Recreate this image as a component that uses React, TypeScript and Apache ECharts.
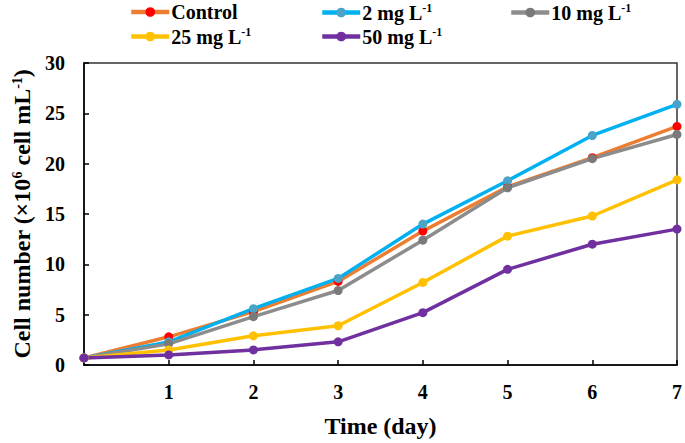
import React, { useEffect, useRef } from "react";
import * as echarts from "echarts";

const days = [0, 1, 2, 3, 4, 5, 6, 7];
const control = [0.7, 2.8, 5.3, 8.3, 13.3, 17.7, 20.6, 23.7];
const mg2 = [0.7, 2.3, 5.6, 8.6, 14.0, 18.3, 22.8, 25.9];
const mg10 = [0.7, 2.1, 4.8, 7.4, 12.4, 17.6, 20.5, 22.9];
const mg25 = [0.7, 1.5, 2.9, 3.9, 8.2, 12.8, 14.8, 18.4];
const mg50 = [0.7, 1.0, 1.5, 2.3, 5.2, 9.5, 12.0, 13.5];
const yTicks = [0, 5, 10, 15, 20, 25, 30];

const seriesDefs = [
  { name: "Control", label: "{a|Control}", data: control, line: "#ED7D31", marker: "#FF0000", left: 129, top: 2 },
  { name: "2 mg L-1", label: "{a|2 mg L}{s|-1}", data: mg2, line: "#00B0F0", marker: "#4BA3C8", left: 320, top: 2 },
  { name: "10 mg L-1", label: "{a|10 mg L}{s|-1}", data: mg10, line: "#8C8C8C", marker: "#7A7A7A", left: 509, top: 2 },
  { name: "25 mg L-1", label: "{a|25 mg L}{s|-1}", data: mg25, line: "#FFC000", marker: "#FFC000", left: 129, top: 26 },
  { name: "50 mg L-1", label: "{a|50 mg L}{s|-1}", data: mg50, line: "#7030A0", marker: "#7030A0", left: 320, top: 26 },
];

const FONT = "Liberation Serif";

export default function App() {
  const ref = useRef<HTMLDivElement>(null);
  useEffect(() => {
    if (!ref.current) return;
    const chart = echarts.init(ref.current, null, { renderer: "svg" });
    const rich = {
      a: { fontFamily: FONT, fontWeight: "bold", fontSize: 20, color: "#000" },
      s: { fontFamily: FONT, fontWeight: "bold", fontSize: 12, color: "#000", verticalAlign: "top", padding: [0, 0, 9, 0] },
    };
    chart.setOption({
      animation: false,
      backgroundColor: "#fff",
      legend: seriesDefs.map((s) => ({
        data: [s.name],
        left: s.left,
        top: s.top,
        padding: 0,
        itemWidth: 38,
        itemHeight: 12,
        itemGap: 2,
        formatter: () => s.label,
        lineStyle: { width: 4.5 },
        textStyle: { rich, padding: [0, 0, 0, -3] },
      })),
      grid: { left: 84, right: 7, top: 63, bottom: 77, show: true, borderColor: "#333", borderWidth: 1.5 },
      xAxis: {
        type: "value",
        min: 0,
        max: 7,
        interval: 1,
        name: "Time (day)",
        nameLocation: "middle",
        nameGap: 49,
        nameTextStyle: { fontFamily: FONT, fontWeight: "bold", fontSize: 24, color: "#000" },
        axisLine: { show: true, lineStyle: { color: "#000", width: 1.5 } },
        axisTick: { show: true, inside: true, length: 5, lineStyle: { color: "#000", width: 1.5 } },
        splitLine: { show: false },
        axisLabel: {
          margin: 17,
          fontFamily: FONT,
          fontWeight: "bold",
          fontSize: 20,
          color: "#000",
          formatter: (v: number) => (v === 0 ? "" : String(v)),
        },
      },
      yAxis: {
        type: "value",
        min: yTicks[0],
        max: yTicks[yTicks.length - 1],
        interval: 5,
        name: "{a|Cell number (×10}{s|6}{a| cell mL}{s|-1}{a|)}",
        nameLocation: "middle",
        nameGap: 49,
        nameTextStyle: {
          rich: {
            a: { fontFamily: FONT, fontWeight: "bold", fontSize: 24, color: "#000" },
            s: { fontFamily: FONT, fontWeight: "bold", fontSize: 14, color: "#000", verticalAlign: "top", padding: [0, 0, 10, 0] },
          },
        },
        axisLine: { show: true, lineStyle: { color: "#000", width: 1.5 } },
        axisTick: { show: true, inside: true, length: 5, lineStyle: { color: "#000", width: 1.5 } },
        splitLine: { show: false },
        axisLabel: { margin: 19, fontFamily: FONT, fontWeight: "bold", fontSize: 20, color: "#000" },
      },
      series: seriesDefs.map((s) => ({
        name: s.name,
        type: "line",
        data: days.map((d, i) => [d, s.data[i]]),
        symbol: "circle",
        symbolSize: 9,
        lineStyle: { color: s.line, width: 3.5 },
        itemStyle: { color: s.marker },
        color: s.line,
      })),
    });
    return () => chart.dispose();
  }, []);
  return <div ref={ref} style={{ width: 685, height: 443, position: "absolute", left: 0, top: 0 }} />;
}
